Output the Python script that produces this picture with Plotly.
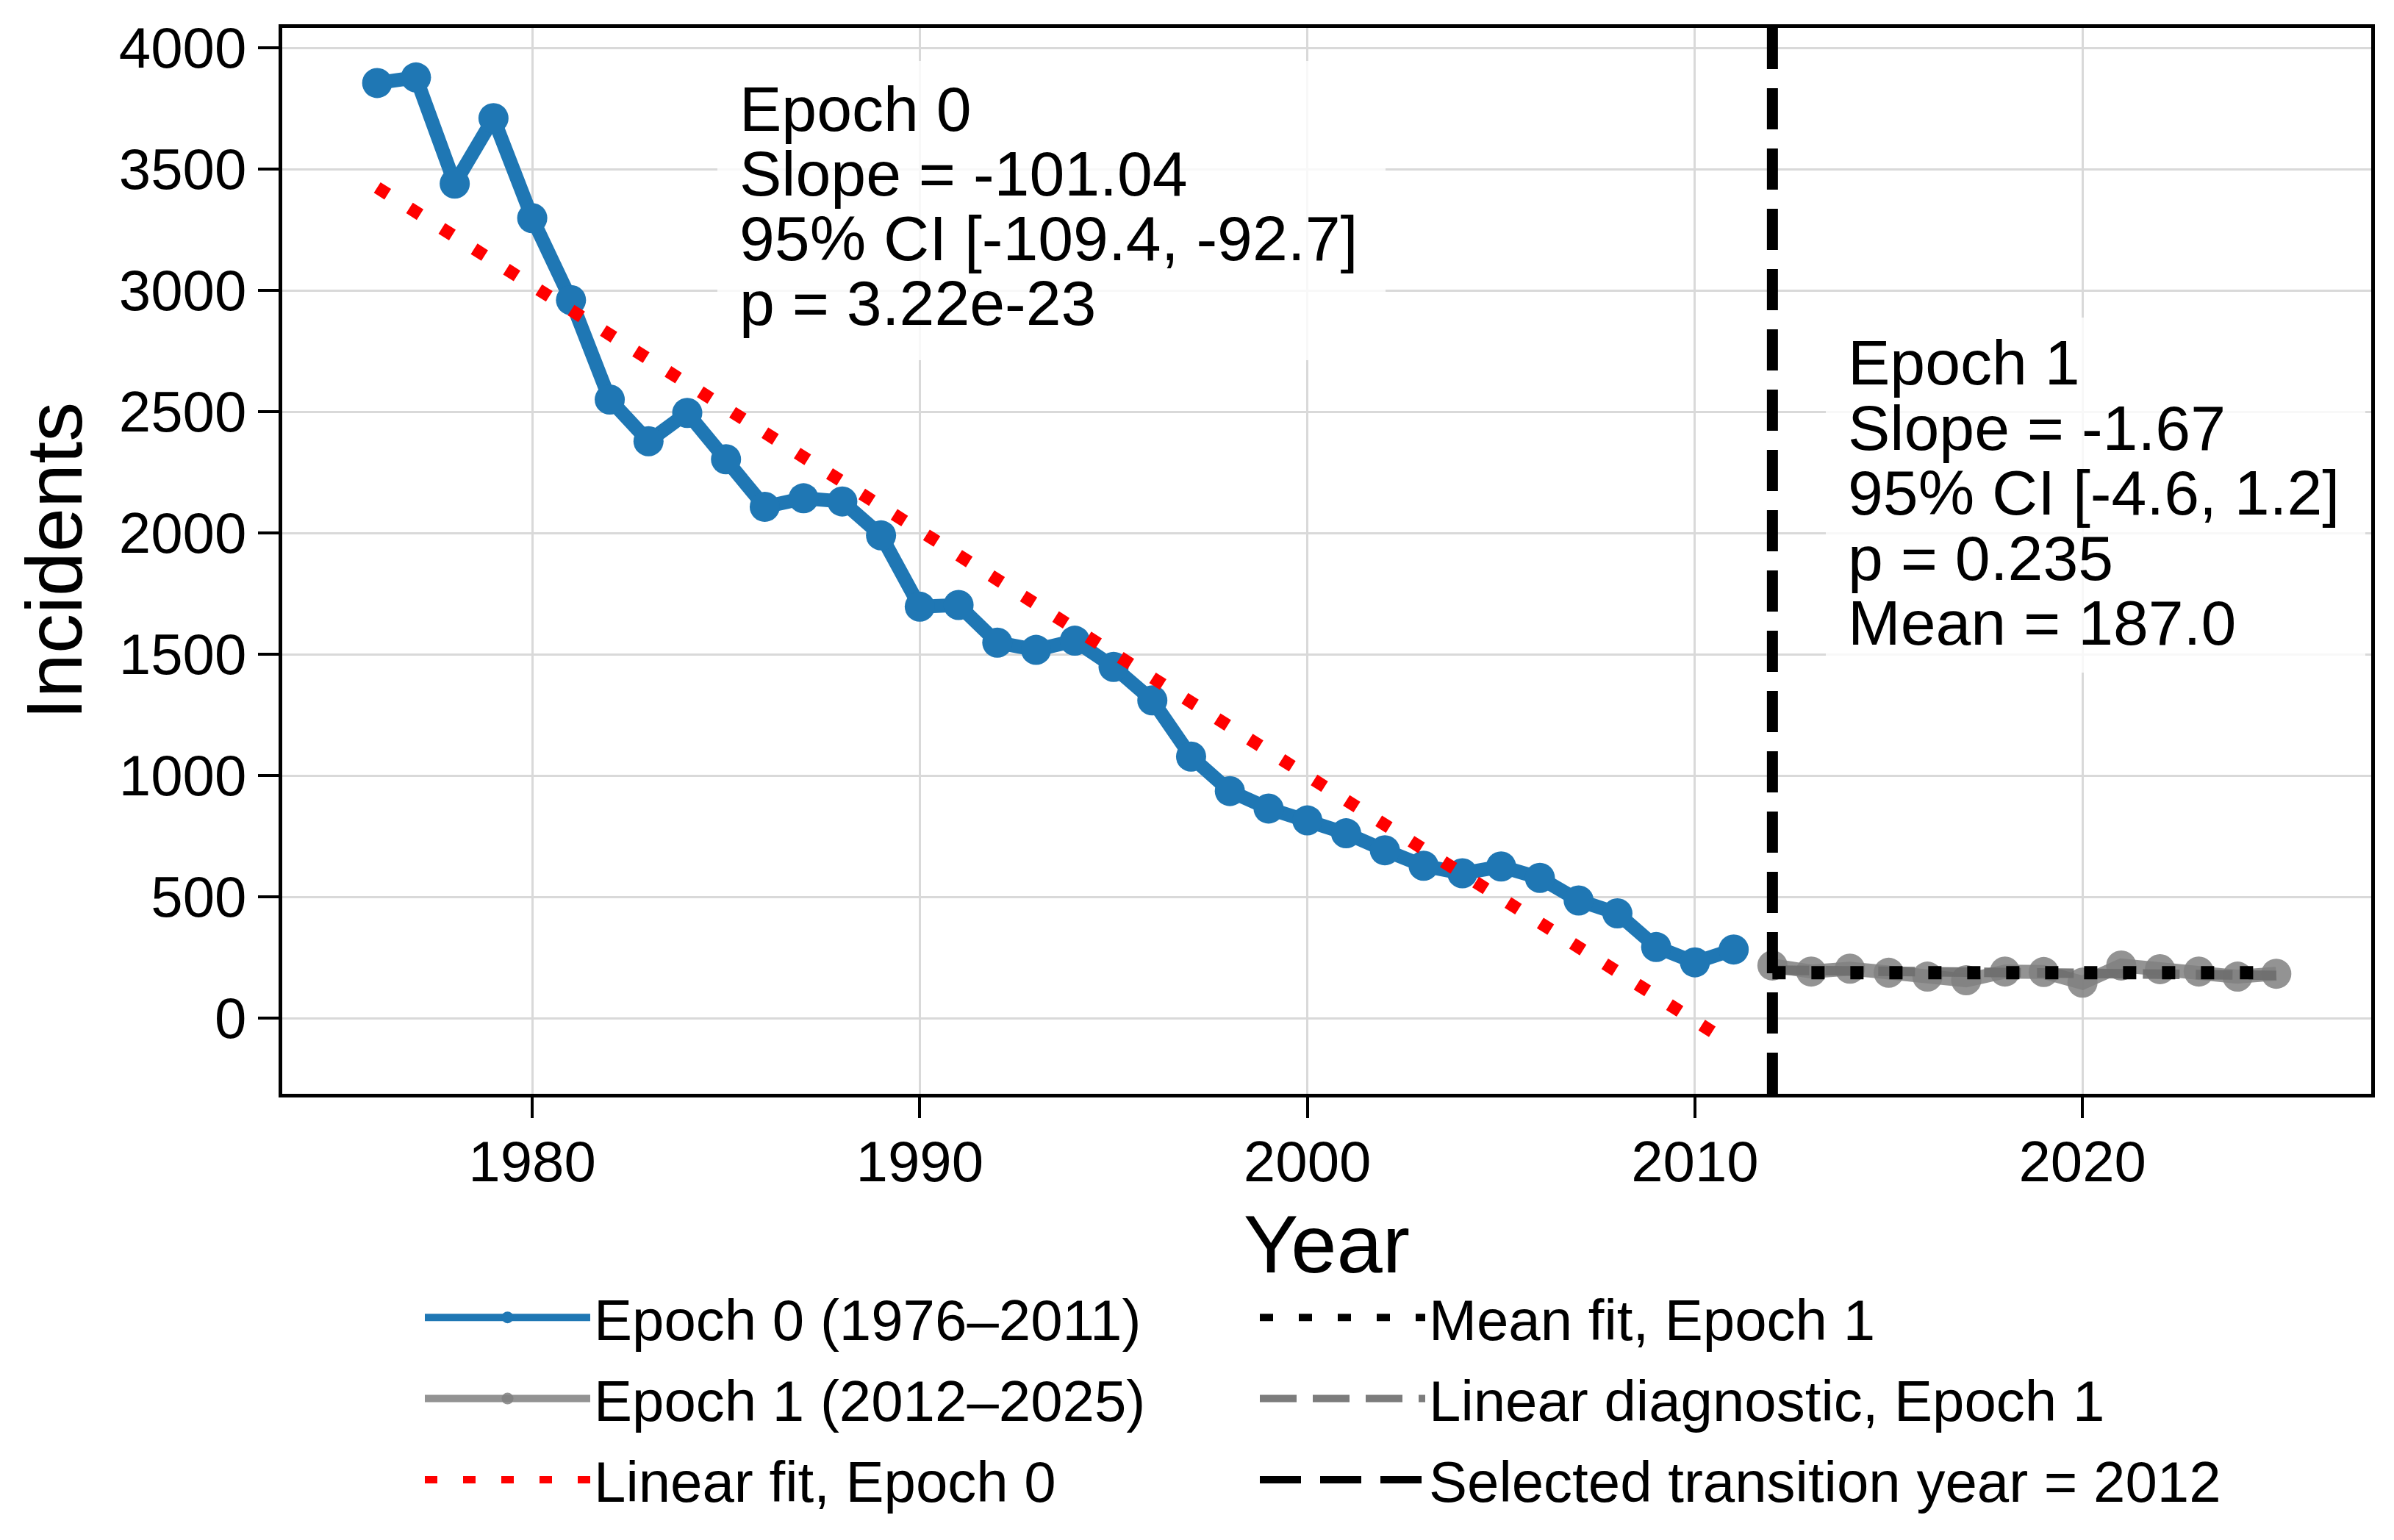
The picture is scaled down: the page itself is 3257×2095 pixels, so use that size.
import plotly.graph_objects as go

# ---------------- data ----------------
years_epoch0 = list(range(1976, 2012))
incidents_epoch0 = [3855, 3878, 3440, 3710, 3298, 2960, 2550, 2378, 2495, 2304,
                    2108, 2143, 2130, 1990, 1696, 1703, 1548, 1518, 1556, 1448,
                    1310, 1078, 936, 864, 815, 762, 692, 628, 597, 625,
                    578, 485, 432, 293, 230, 283]

years_epoch1 = list(range(2012, 2026))
incidents_epoch1 = [217, 192, 204, 187, 171, 156, 192, 190, 146, 217, 202, 192, 171, 183]

fit0_years = [1976, 2011]
fit0_values = [3424, -112]          # linear fit, epoch 0 (slope -101.04)

mean1_years = [2012, 2025]
mean1_values = [187.0, 187.0]       # mean fit, epoch 1

diag1_years = [2012, 2025]
diag1_values = [198, 176]           # linear diagnostic, epoch 1 (slope -1.67)

transition_year = 2012

x_ticks = [1980, 1990, 2000, 2010, 2020]
y_ticks = [0, 500, 1000, 1500, 2000, 2500, 3000, 3500, 4000]

epoch0_lines = ["Epoch 0", "Slope = -101.04", "95% CI [-109.4, -92.7]", "p = 3.22e-23"]
epoch1_lines = ["Epoch 1", "Slope = -1.67", "95% CI [-4.6, 1.2]", "p = 0.235", "Mean = 187.0"]

# ---------------- layout geometry (pixels) ----------------
W, H = 3257, 2095
L, R, T, B = 384, 3226, 38, 1488
PW, PH = R - L, B - T
FONT = "Liberation Sans, Arial, sans-serif"


def px(xp):
    return (xp - L) / PW


def py(yp):
    return (B - yp) / PH


fig = go.Figure()

fig.add_trace(go.Scatter(
    x=years_epoch0, y=incidents_epoch0, mode="lines+markers",
    name="Epoch 0 (1976\u20132011)",
    line=dict(color="#1f77b4", width=19),
    marker=dict(color="#1f77b4", size=41),
    legend="legend", legendgroup="e0", legendrank=1,
))
fig.add_trace(go.Scatter(
    x=years_epoch1, y=incidents_epoch1, mode="lines+markers",
    name="Epoch 1 (2012\u20132025)",
    line=dict(color="rgba(128,128,128,0.85)", width=19),
    marker=dict(color="rgba(128,128,128,0.85)", size=41),
    legend="legend", legendgroup="e1", legendrank=2,
))
fig.add_trace(go.Scatter(
    x=fit0_years, y=fit0_values, mode="lines",
    name="Linear fit, Epoch 0",
    line=dict(color="#ff0000", width=17, dash="17px,35px"),
    legend="legend", legendgroup="f0", legendrank=3,
))
fig.add_trace(go.Scatter(
    x=diag1_years, y=diag1_values, mode="lines",
    name="Linear diagnostic, Epoch 1",
    line=dict(color="rgba(110,110,110,0.9)", width=13, dash="50px,22px"),
    legend="legend2", legendgroup="d1", legendrank=5,
))
fig.add_trace(go.Scatter(
    x=mean1_years, y=mean1_values, mode="lines",
    name="Mean fit, Epoch 1",
    line=dict(color="black", width=18, dash="18px,35px"),
    legend="legend2", legendgroup="m1", legendrank=4,
))

# transition line
fig.add_shape(
    type="line", xref="x", yref="paper",
    x0=transition_year, x1=transition_year, y0=0, y1=1,
    line=dict(color="black", width=15, dash="56px,26px"),
    layer="above",
    showlegend=True, name="Selected transition year = 2012",
    legend="legend2", legendgroup="tr", legendrank=6,
)

# annotation background boxes
for (x0, x1, y0, y1) in [(976, 1885, 83, 490), (2484, 3218, 432, 915)]:
    fig.add_shape(type="rect", xref="paper", yref="paper",
                  x0=px(x0), x1=px(x1), y0=py(y1), y1=py(y0),
                  fillcolor="white", opacity=0.8, line=dict(width=0),
                  layer="above")

ann_font = 86


def add_lines(lines, x_left, base0, pitch):
    for i, t in enumerate(lines):
        base = base0 + pitch * i
        center = base - 0.3465 * ann_font
        fig.add_annotation(
            text=t, xref="paper", yref="paper",
            x=px(x_left), y=py(center), xanchor="left", yanchor="middle",
            showarrow=False, font=dict(size=ann_font, family=FONT, color="black"),
        )


add_lines(epoch0_lines, 1004, 178, 88)
add_lines(epoch1_lines, 2512, 523, 88.5)

axis_common = dict(
    showgrid=True, gridcolor="#d9d9d9", gridwidth=3,
    showline=True, linecolor="black", linewidth=5, mirror=True,
    ticks="outside", ticklen=28, tickwidth=4, tickcolor="black",
    tickfont=dict(size=78, family=FONT, color="black"),
    zeroline=False,
)

legend_common = dict(
    orientation="v", xanchor="left", yanchor="top",
    font=dict(size=78, family=FONT, color="black"),
    itemwidth=225, tracegroupgap=6,
    bgcolor="rgba(0,0,0,0)", traceorder="grouped",
)

fig.update_layout(
    width=W, height=H,
    margin=dict(l=L, r=W - R, t=T, b=H - B, autoexpand=False),
    paper_bgcolor="white", plot_bgcolor="white",
    font=dict(family=FONT, color="black"),
    xaxis=dict(range=[1973.55, 2027.45], tickvals=x_ticks,
               ticklabelstandoff=-8,
               title=dict(text="Year", font=dict(size=112, family=FONT), standoff=32),
               automargin=True,
               **axis_common),
    yaxis=dict(range=[-312, 4082], tickvals=y_ticks,
               title=dict(text="Incidents", font=dict(size=108, family=FONT), standoff=16),
               automargin=True,
               **axis_common),
    legend=dict(x=px(573), y=py(1735), **legend_common),
    legend2=dict(x=px(1709), y=py(1735), **legend_common),
    showlegend=True,
)

fig.write_html("out.html")
